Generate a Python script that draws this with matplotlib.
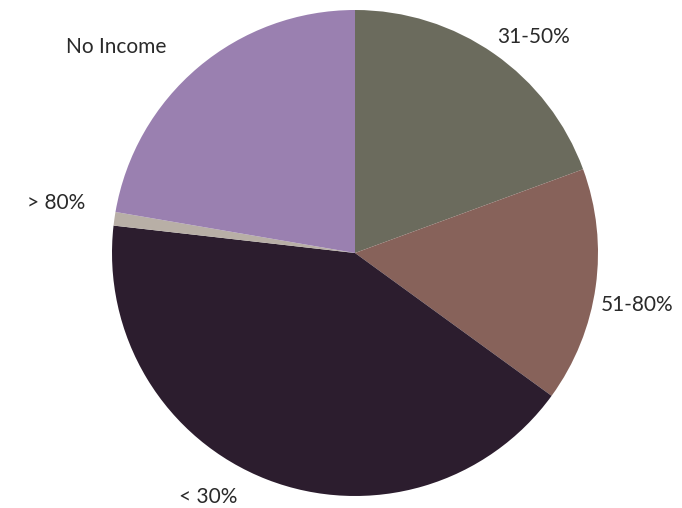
import matplotlib
matplotlib.use("Agg")
from matplotlib import pyplot as plt

# slices, clockwise from 12 o'clock
categories = ["31-50%", "51-80%", "< 30%", "> 80%", "No Income"]
shares = [19.4, 15.6, 41.8, 0.9, 22.3]
colors = ["#6b6b5d", "#87625a", "#2c1d2e", "#b8afa6", "#9a80b0"]

# label anchor points in pixel space (x, y from top)
label_pos = {
    "31-50%": (534, 37),
    "51-80%": (637, 305),
    "< 30%": (208, 497),
    "> 80%": (56, 203),
    "No Income": (116, 47),
}

plt.rcParams["font.family"] = ["Lato", "DejaVu Sans"]

W, H = 682, 508
fig = plt.figure(figsize=(W / 100, H / 100), dpi=100)
ax = fig.add_axes([0, 0, 1, 1])

ax.pie(
    shares,
    colors=colors,
    startangle=90,
    counterclock=False,
    center=(355, H - 253),
    radius=243,
    frame=True,
    wedgeprops=dict(linewidth=0),
)
ax.set_xlim(0, W)
ax.set_ylim(0, H)
ax.set_aspect("equal")
ax.axis("off")

for cat in categories:
    x, y = label_pos[cat]
    ax.text(x, H - y, cat, ha="center", va="center", fontsize=15, color="#2a2a2a")

fig.savefig("out.png", dpi=100)
